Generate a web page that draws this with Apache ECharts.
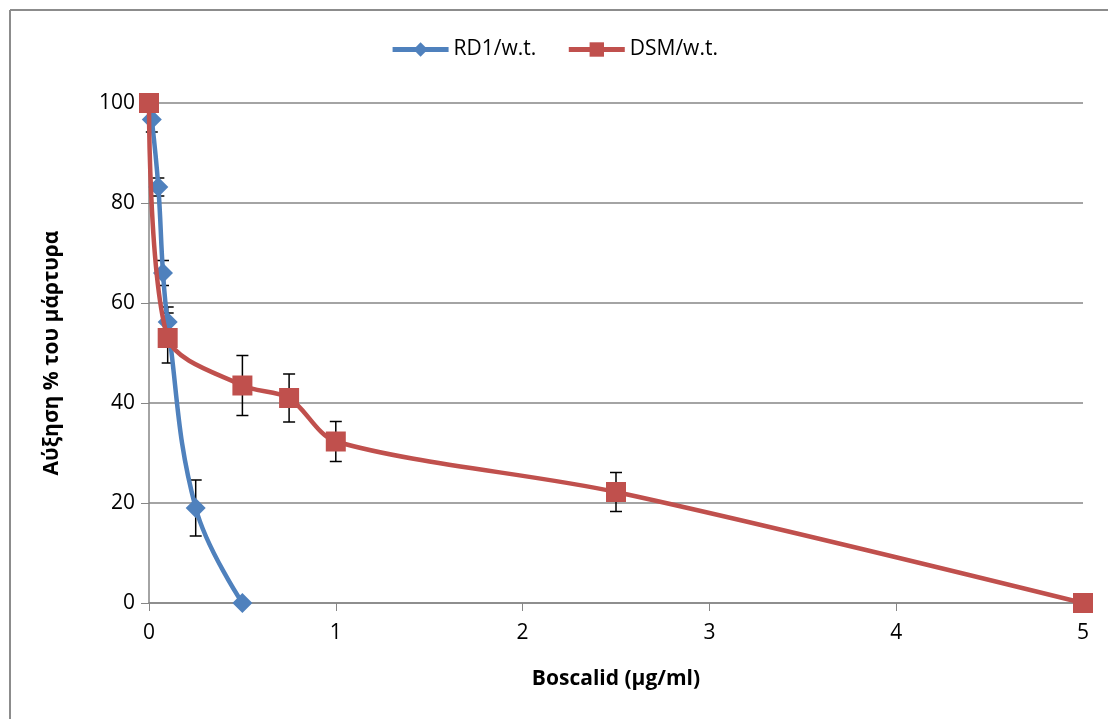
<!DOCTYPE html>
<html>
<head>
<meta charset="utf-8">
<script src="https://cdn.jsdelivr.net/npm/echarts@6/dist/echarts.min.js"></script>
<style>
  html, body { margin: 0; padding: 0; background: #fff; }
  #chart { width: 1108px; height: 719px; }
</style>
</head>
<body>
<div id="chart"></div>
<script>
// RD1/w.t.
const rd1X = [0.015, 0.05, 0.075, 0.1, 0.25, 0.5];
const rd1Y = [96.7, 83.2, 66, 56.2, 19, 0];
const rd1Err = [2.5, 1.8, 2.5, 3, 5.6, 0];
// DSM/w.t.
const dsmX = [0, 0.1, 0.5, 0.75, 1, 2.5, 5];
const dsmY = [100, 53, 43.5, 41, 32.3, 22.2, 0];
const dsmErr = [0, 5, 6, 4.8, 4, 3.9, 0];

const xTicks = [0, 1, 2, 3, 4, 5];
const yTicks = [0, 20, 40, 60, 80, 100];

const blue = '#4F81BD';
const red = '#C0504D';
const font = 'Open Sans';

function pairs(xs, ys) { return xs.map((x, i) => [x, ys[i]]); }
function errData(xs, ys, es) {
  return xs.map((x, i) => [x, ys[i] - es[i], ys[i] + es[i]]).filter((d, i) => es[i] > 0);
}

function errorBars(params, api) {
  const x = api.value(0);
  const lo = api.coord([x, api.value(1)]);
  const hi = api.coord([x, api.value(2)]);
  const w = 6;
  const style = { stroke: '#000', lineWidth: 1.5 };
  return {
    type: 'group',
    children: [
      { type: 'line', shape: { x1: lo[0], y1: lo[1], x2: hi[0], y2: hi[1] }, style },
      { type: 'line', shape: { x1: lo[0] - w, y1: lo[1], x2: lo[0] + w, y2: lo[1] }, style },
      { type: 'line', shape: { x1: hi[0] - w, y1: hi[1], x2: hi[0] + w, y2: hi[1] }, style }
    ]
  };
}

const chart = echarts.init(document.getElementById('chart'));
chart.setOption({
  animation: false,
  backgroundColor: '#fff',
  textStyle: { fontFamily: font },
  graphic: [
    { type: 'line', shape: { x1: 10, y1: 10, x2: 1108, y2: 10 }, style: { stroke: '#8c8c8c', lineWidth: 2 } },
    { type: 'line', shape: { x1: 10, y1: 10, x2: 10, y2: 719 }, style: { stroke: '#8c8c8c', lineWidth: 2 } }
  ],
  legend: {
    top: 34,
    left: 'center',
    itemWidth: 56,
    itemHeight: 18,
    itemGap: 30,
    lineStyle: { width: 5 },
    textStyle: { fontSize: 21, color: '#000', fontFamily: font },
    data: ['RD1/w.t.', 'DSM/w.t.']
  },
  grid: { left: 149, right: 25, top: 103, bottom: 116 },
  xAxis: {
    type: 'value',
    min: 0, max: 5, interval: 1,
    name: 'Boscalid (μg/ml)',
    nameLocation: 'middle',
    nameGap: 66,
    nameTextStyle: { fontSize: 21, fontWeight: 'bold', color: '#000' },
    axisLine: { lineStyle: { color: '#868686', width: 1.5 } },
    axisTick: { show: true, length: 8, lineStyle: { color: '#868686' } },
    axisLabel: {
      fontSize: 21, color: '#000', margin: 20,
      formatter: v => xTicks.includes(v) ? String(v) : ''
    },
    splitLine: { show: false }
  },
  yAxis: {
    type: 'value',
    min: 0, max: 100, interval: 20,
    name: 'Αύξηση % του μάρτυρα',
    nameLocation: 'middle',
    nameGap: 86,
    nameTextStyle: { fontSize: 21, fontWeight: 'bold', color: '#000' },
    axisLine: { show: true, lineStyle: { color: '#868686', width: 1.5 } },
    axisTick: { show: true, length: 8, lineStyle: { color: '#868686' } },
    axisLabel: {
      fontSize: 21, color: '#000', margin: 14,
      formatter: v => yTicks.includes(v) ? String(v) : ''
    },
    splitLine: { lineStyle: { color: '#868686', width: 1.5 } }
  },
  series: [
    {
      name: 'RD1 err', type: 'custom', z: 1,
      renderItem: errorBars,
      encode: { x: 0, y: [1, 2] },
      data: errData(rd1X, rd1Y, rd1Err)
    },
    {
      name: 'DSM err', type: 'custom', z: 1,
      renderItem: errorBars,
      encode: { x: 0, y: [1, 2] },
      data: errData(dsmX, dsmY, dsmErr)
    },
    {
      name: 'RD1/w.t.', type: 'line', z: 3,
      data: pairs(rd1X, rd1Y),
      smooth: 0.4,
      symbol: 'diamond', symbolSize: 20,
      lineStyle: { color: blue, width: 4.5 },
      itemStyle: { color: blue }
    },
    {
      name: 'DSM/w.t.', type: 'line', z: 4,
      data: pairs(dsmX, dsmY),
      smooth: 0.3,
      symbol: 'rect', symbolSize: 20,
      lineStyle: { color: red, width: 4.5 },
      itemStyle: { color: red }
    }
  ]
});
</script>
</body>
</html>
